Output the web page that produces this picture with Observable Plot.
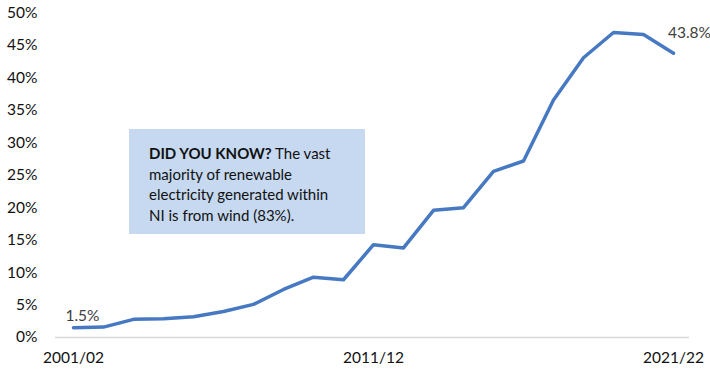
<!DOCTYPE html>
<html>
<head>
<meta charset="utf-8">
<script src="https://cdn.jsdelivr.net/npm/d3@7"></script>
<script src="https://cdn.jsdelivr.net/npm/@observablehq/plot@0.6"></script>
<style>
  html, body { margin: 0; padding: 0; background: #fff; }
  #wrap { position: relative; width: 710px; height: 373px; overflow: hidden; font-family: Lato, "Open Sans", sans-serif; }
  #note {
    position: absolute; left: 129px; top: 129px; width: 236px; height: 105px;
    background: #C6D9F0; box-sizing: border-box; padding: 14px 4px 0 20px;
    font-size: 15px; line-height: 20.7px; color: #111; white-space: nowrap;
  }
  #note b { font-weight: 700; }
</style>
</head>
<body>
<div id="wrap">
  <div id="chart"></div>
  <div id="note"><b>DID YOU KNOW?</b> The vast<br>majority of renewable<br>electricity generated within<br>NI is from wind (83%).</div>
</div>
<script>
const years = ["2001/02","2002/03","2003/04","2004/05","2005/06","2006/07","2007/08","2008/09","2009/10","2010/11",
               "2011/12","2012/13","2013/14","2014/15","2015/16","2016/17","2017/18","2018/19","2019/20","2020/21","2021/22"];
const shares = [1.5, 1.6, 2.8, 2.9, 3.2, 4.0, 5.1, 7.4, 9.3, 8.9,
                14.3, 13.8, 19.6, 20.0, 25.6, 27.2, 36.6, 43.1, 47.0, 46.7, 43.8];
const xTickLabels = ["2001/02", "2011/12", "2021/22"];
const yTicks = [0, 5, 10, 15, 20, 25, 30, 35, 40, 45, 50];

const data = years.map((y, i) => ({year: y, value: shares[i]}));
const first = [data[0]];
const last = [data[data.length - 1]];
const fmt = d => d.value.toFixed(1) + "%";

const chart = Plot.plot({
  width: 710,
  height: 373,
  marginLeft: 70,
  marginRight: 35,
  marginTop: 12.5,
  marginBottom: 36,
  style: {fontFamily: "Lato, 'Open Sans', sans-serif", fontSize: "15.5px", color: "#111", background: "#fff"},
  x: {type: "point", domain: years, padding: 0, label: null, ticks: xTickLabels, tickSize: 0, tickPadding: 14},
  y: {domain: [0, 50], ticks: yTicks, tickFormat: d => d + "%", tickSize: 0, tickPadding: 33, label: null},
  marks: [
    Plot.ruleY([0], {stroke: "#D9D9D9", strokeWidth: 1.5, insetLeft: -15, insetRight: -14}),
    Plot.line(data, {x: "year", y: "value", stroke: "#4679C2", strokeWidth: 3.5, strokeLinejoin: "round", strokeLinecap: "round"}),
    Plot.text(first, {x: "year", y: "value", text: fmt, dy: -12, dx: 9, fill: "#404040", fontSize: 15.5}),
    Plot.text(last, {x: "year", y: "value", text: fmt, dy: -20, dx: 16, fill: "#404040", fontSize: 15.5})
  ]
});
document.getElementById("chart").appendChild(chart);
</script>
</body>
</html>
